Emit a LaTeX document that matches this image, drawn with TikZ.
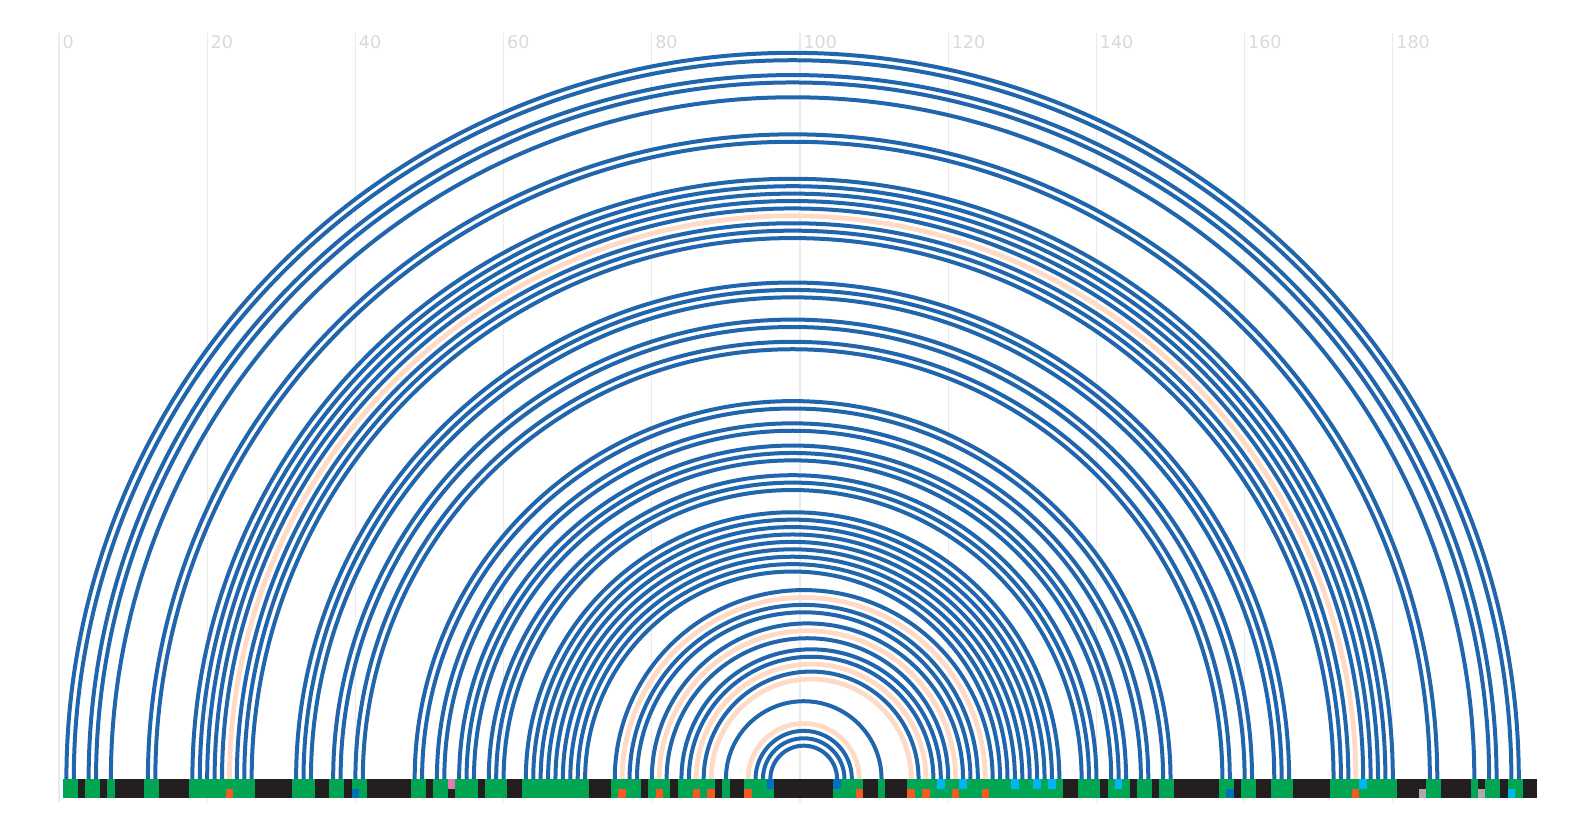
\documentclass[tikz,border=0pt]{standalone}
\usepackage{fontspec}
\setmainfont{DejaVu Sans}
\definecolor{arcblue}{HTML}{2166AC}
\definecolor{arcpeach}{HTML}{FDDBC7}
\definecolor{basegreen}{HTML}{00A651}
\definecolor{baseblack}{HTML}{231F20}
\definecolor{markorange}{HTML}{F15A22}
\definecolor{markblue}{HTML}{0071BC}
\definecolor{markpink}{HTML}{E27BB1}
\definecolor{markcyan}{HTML}{00B7F1}
\definecolor{markgray}{HTML}{ABABAB}
\definecolor{gridgray}{HTML}{EBEBEB}
\definecolor{labelgray}{HTML}{D9D9D9}
\begin{document}
\begin{tikzpicture}[x=7.41pt, y=7.41pt,
    pairarc/.style={arcblue, line width=4pt},
    softarc/.style={arcpeach, line width=4.8pt},
    ticklabel/.style={anchor=north west, inner sep=0pt, text=labelgray, font=\fontsize{17.5}{21}\selectfont}]
    \useasboundingbox (-7.962,-7.692) rectangle (206.88,105.13);
    % 网格与刻度
    \foreach \t in {0,20,...,180} {
        \draw[gridgray, line width=1.2pt] (\t,-3.1) -- (\t,100.7);
        \node[ticklabel] (tick\t) at (\t+0.45,100.4) {\t};
    }
    % 碱基位置
    \foreach \i in {1,...,199} \coordinate (p\i) at (\i,0);
    % 配对弧
    \foreach \a/\b in {23/175, 76/125, 81/121, 86/117, 88/115, 93/108}
        \draw[softarc] (p\a) arc[start angle=180, end angle=0, radius={(\b-\a)/2}];
    \foreach \a/\b in {1/197, 2/196, 4/194, 5/193, 7/191, 12/186, 13/185,
        18/180, 19/179, 20/178, 21/177, 22/176, 24/174, 25/173, 26/172,
        32/166, 33/165, 34/164, 37/161, 38/160, 40/158, 41/157, 48/150, 49/149,
        51/147, 52/146, 54/144, 55/143, 56/142, 58/140, 59/139, 60/138,
        63/135, 64/134, 65/133, 66/132, 67/131, 68/130, 69/129, 70/128, 71/127,
        75/126, 77/124, 78/123, 80/122, 82/120, 84/119, 85/118, 87/116,
        90/111, 94/107, 95/106, 96/105}
        \draw[pairarc] (p\a) arc[start angle=180, end angle=0, radius={(\b-\a)/2}];
    % 序列条
    \fill[baseblack] (0.5,0) rectangle (199.5,-2.56);
    \foreach \a/\b in {1/2, 4/5, 7/7, 12/13, 18/26, 32/34, 37/38, 40/41, 48/49,
        51/52, 54/56, 58/60, 63/71, 75/78, 80/82, 84/88, 90/90, 93/96,
        105/108, 111/111, 115/135, 138/140, 142/144, 146/147, 149/150,
        157/158, 160/161, 164/166, 172/180, 185/186, 191/191, 193/194, 196/197}
        \fill[basegreen] (\a-0.5,0) rectangle (\b+0.5,-2.56);
    \foreach \i/\c in {23/markorange, 76/markorange, 81/markorange, 86/markorange,
        88/markorange, 93/markorange, 108/markorange, 115/markorange, 117/markorange,
        121/markorange, 125/markorange, 175/markorange, 40/markblue, 158/markblue,
        196/markcyan, 184/markgray, 192/markgray}
        \fill[\c] (\i-0.5,-1.28) rectangle (\i+0.5,-2.56);
    \foreach \i/\c in {96/markblue, 105/markblue, 53/markpink, 119/markcyan,
        122/markcyan, 129/markcyan, 132/markcyan, 134/markcyan, 143/markcyan,
        176/markcyan}
        \fill[\c] (\i-0.5,0) rectangle (\i+0.5,-1.28);
\end{tikzpicture}
\end{document}
